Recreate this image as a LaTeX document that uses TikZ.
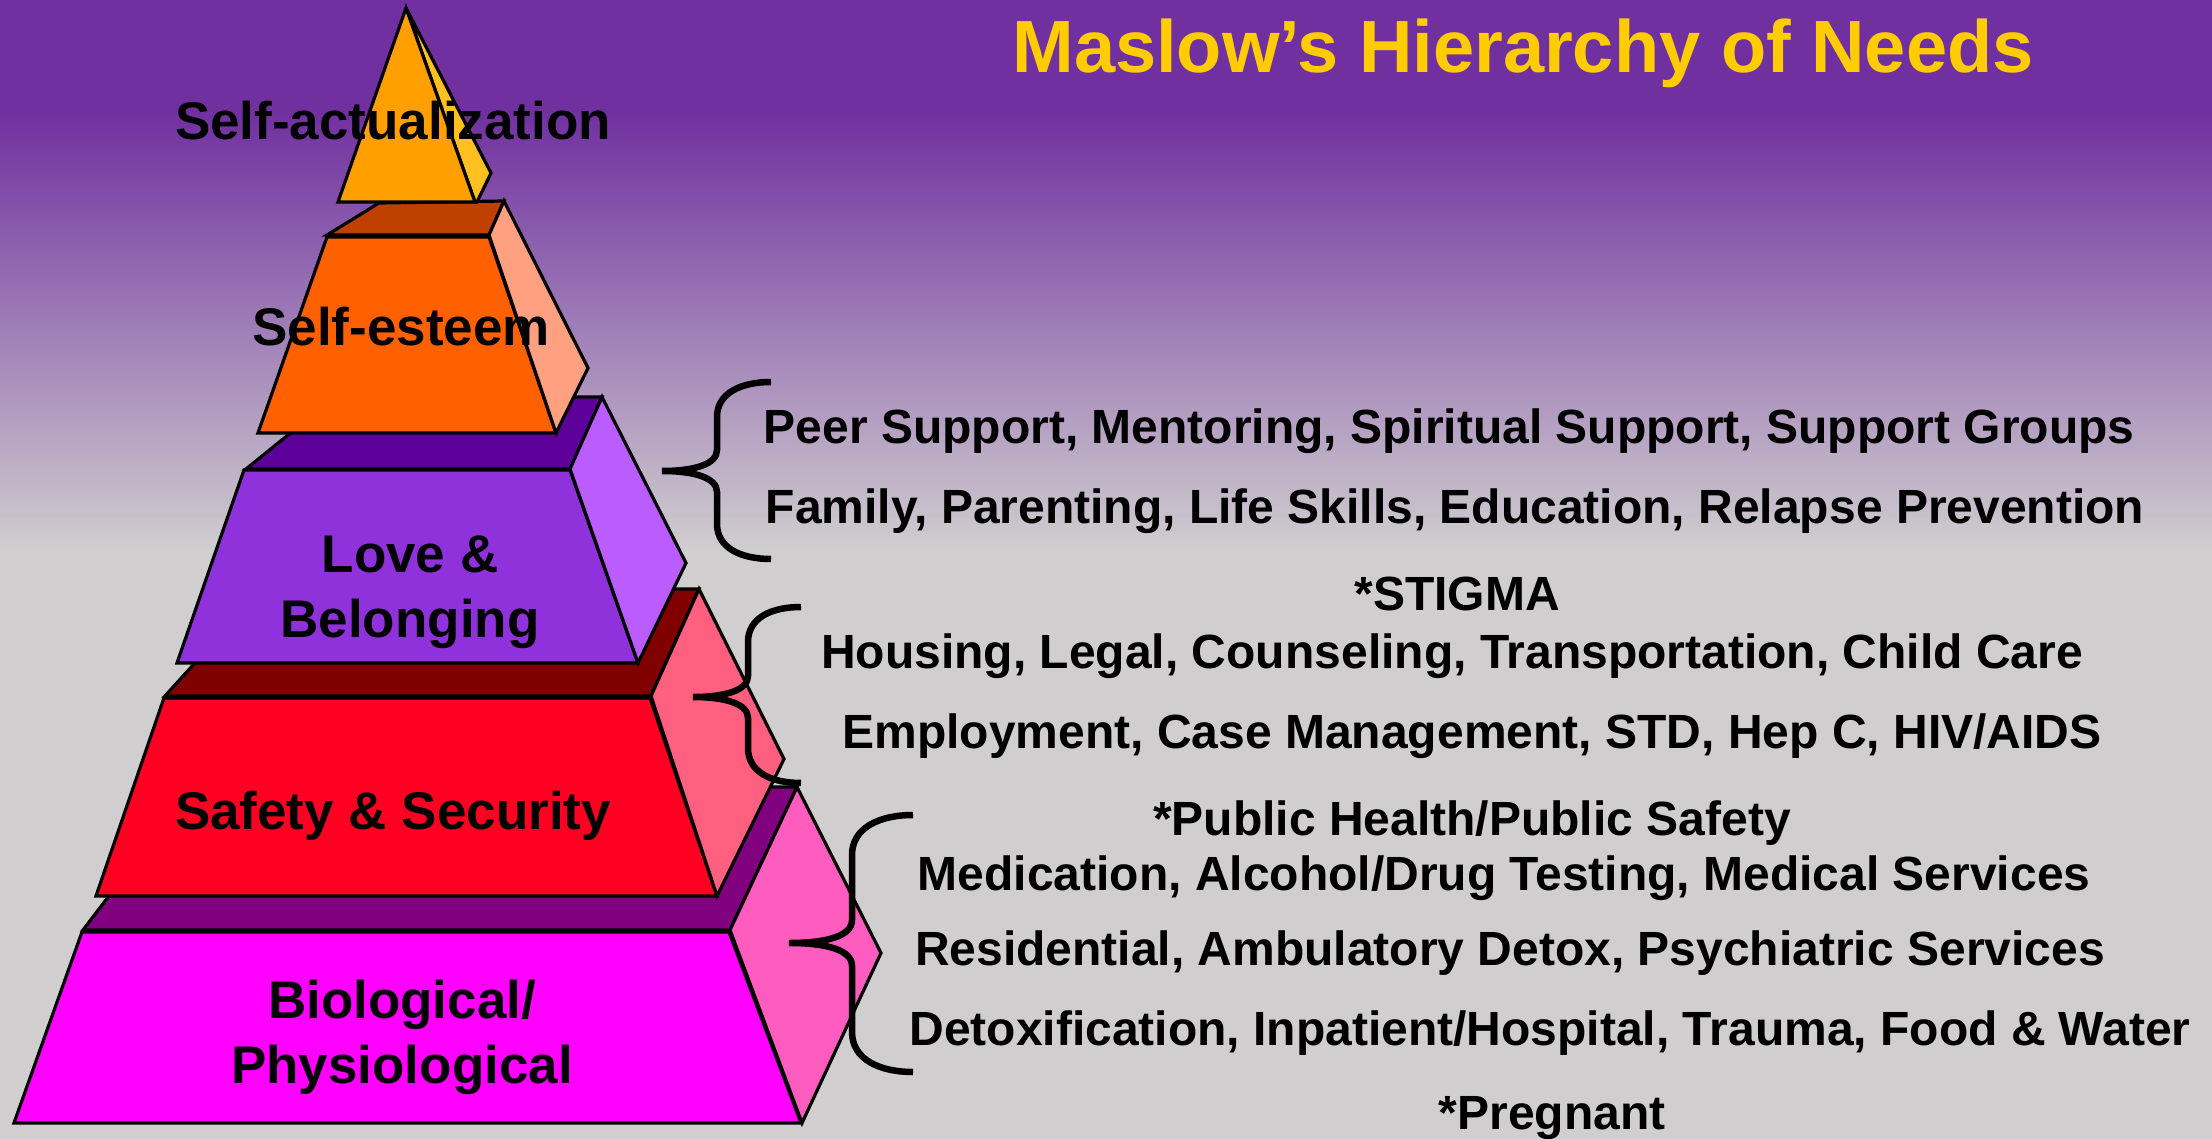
\documentclass[tikz,border=0pt]{standalone}
\usepackage{fontspec}
\setmainfont{Liberation Sans}

\definecolor{slidepurple}{RGB}{112,48,160}
\definecolor{slidegray}{RGB}{208,206,207}
\definecolor{titlegold}{RGB}{255,204,0}
\definecolor{actfront}{RGB}{255,160,0}
\definecolor{actside}{RGB}{255,192,32}
\definecolor{esteemtop}{RGB}{192,64,0}
\definecolor{esteemfront}{RGB}{255,96,0}
\definecolor{esteemside}{RGB}{255,160,128}
\definecolor{lovetop}{RGB}{92,0,153}
\definecolor{lovefront}{RGB}{144,50,220}
\definecolor{loveside}{RGB}{187,92,255}
\definecolor{safetop}{RGB}{128,0,0}
\definecolor{safefront}{RGB}{255,0,34}
\definecolor{safeside}{RGB}{255,96,128}
\definecolor{biotop}{RGB}{128,0,128}
\definecolor{biofront}{RGB}{255,0,255}
\definecolor{bioside}{RGB}{255,92,192}

\tikzset{
  face/.style={draw=black, line width=1.6pt, line join=miter},
  levellabel/.style={font=\fontsize{26.5}{32.5}\selectfont\bfseries, align=center, anchor=base, inner sep=0pt},
  servicetext/.style={font=\fontsize{24}{28}\selectfont\bfseries, anchor=base, inner sep=0pt},
  bracestyle/.style={draw=black, line width=3.25pt},
}

\begin{document}
\begin{tikzpicture}[x=0.5pt, y=-0.5pt]
            \useasboundingbox (0,0) rectangle (2212,1139);
            % background
            \fill[slidepurple] (0,0) rectangle (2212,111);
            \shade[top color=slidepurple, bottom color=slidegray] (0,110) rectangle (2212,551);
            \fill[slidegray] (0,550) rectangle (2212,1139);

            \node[font=\fontsize{37}{44}\selectfont\bfseries, text=titlegold, anchor=base, inner sep=0pt] (title) at (1523,73) {Maslow’s Hierarchy of Needs};

            % pyramid, bottom level first
            \filldraw[face, fill=biotop] (83,930) -- (192,787) -- (797,787) -- (730,930) -- cycle;
            \filldraw[face, fill=biofront] (82,932) -- (729,932) -- (801,1123) -- (14,1123) -- cycle;
            \filldraw[face, fill=bioside] (730,930) -- (797,787) -- (881,953) -- (802,1123) -- cycle;

            \filldraw[face, fill=safetop] (165,696) -- (262,589) -- (699,589) -- (651,696) -- cycle;
            \filldraw[face, fill=safefront] (164,698) -- (650,698) -- (717,896) -- (96,896) -- cycle;
            \filldraw[face, fill=safeside] (651,696) -- (699,589) -- (784,759) -- (717,896) -- cycle;

            \filldraw[face, fill=lovetop] (246,469) -- (335,397) -- (602,397) -- (571,469) -- cycle;
            \filldraw[face, fill=lovefront] (244,470) -- (570,470) -- (638,663) -- (177,663) -- cycle;
            \filldraw[face, fill=loveside] (570,469) -- (602,397) -- (686,563) -- (638,663) -- cycle;

            \filldraw[face, fill=esteemtop] (327,235) -- (379,203) -- (504,201) -- (489,235) -- cycle;
            \filldraw[face, fill=esteemfront] (327,237) -- (489,237) -- (556,433) -- (258,433) -- cycle;
            \filldraw[face, fill=esteemside] (489,235) -- (504,201) -- (588,368) -- (556,433) -- cycle;

            \filldraw[face, fill=actside] (406,8) -- (491,173) -- (477,202) -- (475,202) -- cycle;
            \filldraw[face, fill=actfront] (406,8) -- (475,202) -- (338,202) -- cycle;

            \node[levellabel] (selfact) at (393,140) {Self-actualization};
            \node[levellabel] (esteem) at (401,345) {Self-esteem};
            \node[levellabel] (love) at (410,637) {Love \&\\Belonging};
            \node[levellabel] (safety) at (393,829) {Safety \& Security};
            \node[levellabel] (bio) at (402,1083) {Biological/\\Physiological};

            % braces
            \draw[bracestyle] (771,382) .. controls (741,382) and (717,393) .. (717,417) -- (717,450)
              .. controls (717,464) and (695,471) .. (662,471) .. controls (695,471) and (717,478) .. (717,492)
              -- (717,524) .. controls (717,548) and (741,559) .. (771,559);
            \draw[bracestyle] (801,607) .. controls (771,607) and (748,618) .. (748,642) -- (748,676)
              .. controls (748,690) and (726,697) .. (693,697) .. controls (726,697) and (748,704) .. (748,718)
              -- (748,748) .. controls (748,772) and (771,783) .. (801,783);
            \draw[bracestyle] (913,815) .. controls (879,815) and (852,828) .. (852,855) -- (852,920)
              .. controls (852,936) and (827,943) .. (789,943) .. controls (827,943) and (852,950) .. (852,966)
              -- (852,1032) .. controls (852,1059) and (879,1072) .. (913,1072);

            \node[servicetext] (peer) at (1449,443) {Peer Support, Mentoring, Spiritual Support, Support Groups};
            \node[servicetext] (family) at (1455,523) {Family, Parenting, Life Skills, Education, Relapse Prevention};
            \node[servicetext] (stigma) at (1457,610) {*STIGMA};
            \node[servicetext] (housing) at (1452,668) {Housing, Legal, Counseling, Transportation, Child Care};
            \node[servicetext] (employ) at (1472,748) {Employment, Case Management, STD, Hep C, HIV/AIDS};
            \node[servicetext] (public) at (1472,835) {*Public Health/Public Safety};
            \node[servicetext] (medic) at (1504,890) {Medication, Alcohol/Drug Testing, Medical Services};
            \node[servicetext] (resid) at (1510,965) {Residential, Ambulatory Detox, Psychiatric Services};
            \node[servicetext] (detox) at (1550,1045) {Detoxification, Inpatient/Hospital, Trauma, Food \& Water};
            \node[servicetext] (pregnant) at (1552,1129) {*Pregnant};
        \end{tikzpicture}
\end{document}
